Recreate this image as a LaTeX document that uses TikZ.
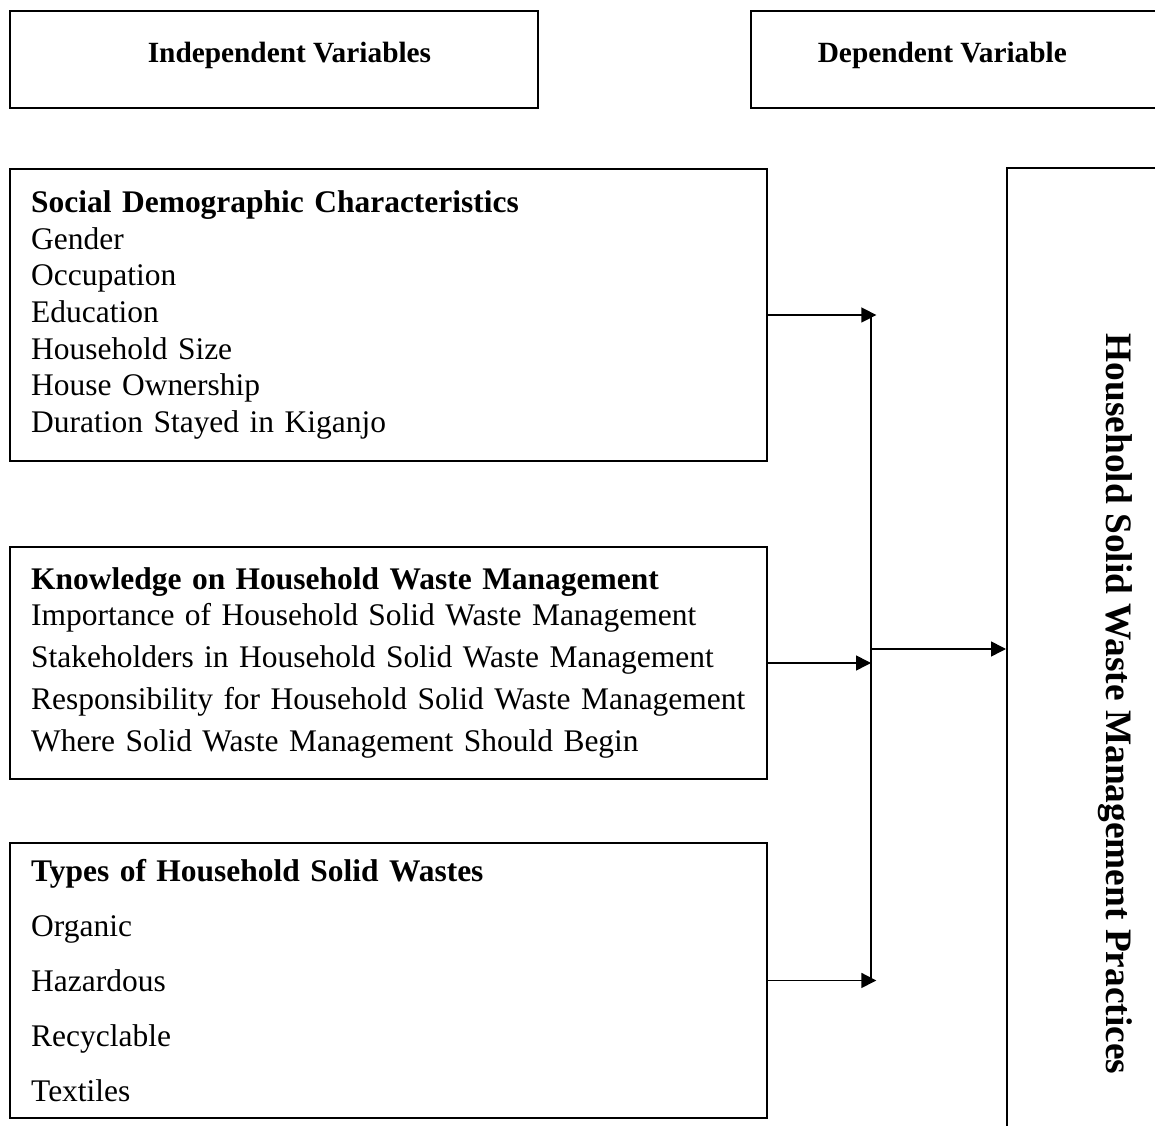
\documentclass[tikz,border=0pt]{standalone}
\usepackage{fontspec}
\setmainfont{Liberation Serif}
\usetikzlibrary{arrows.meta,positioning}
\tikzset{font=\fontsize{11.8}{14}\selectfont}

\begin{document}
\begin{tikzpicture}[x=0.375pt,y=-0.375pt,line width=0.6pt,
    headbox/.style={draw,line width=0.75pt,anchor=north west,minimum width=198pt,minimum height=36.4pt},
    headlab/.style={anchor=west,inner xsep=0pt,font=\fontsize{11}{13}\selectfont\bfseries},
    varbox/.style={draw,line width=0.75pt,anchor=north west,minimum width=283.9pt,text width=268pt,
      inner xsep=7.9pt,align=left},
    flow/.style={-{Triangle[length=5.6pt,width=5.6pt]}}]
  \useasboundingbox (0,0) rectangle (1155,1126);
  \clip (0,0) rectangle (1155,1126);

  % heading boxes
  \node[headbox] (indep) at (9,10) {};
  \node[headbox,minimum width=200pt] (dep) at (750,10) {};
  \node[headlab] (indeplab) at (147,55) {Independent Variables};
  \node[headlab] (deplab) at (817,55) {Dependent Variable};

  % independent variables
  \node[varbox,minimum height=109.5pt,font=\fontsize{11.8}{13.75}\selectfont] (social) at (9,168)
    {\textbf{Social Demographic Characteristics}\\Gender\\Occupation\\Education\\
     Household Size\\House Ownership\\Duration Stayed in Kiganjo};
  \node[varbox,minimum height=87pt,font=\fontsize{11.8}{15.75}\selectfont] (know) at (9,546)
    {\textbf{Knowledge on Household Waste Management}\\[-2.6pt]
     Importance of Household Solid Waste Management\\
     Stakeholders in Household Solid Waste Management\\
     Responsibility for Household Solid Waste Management\\
     Where Solid Waste Management Should Begin};
  \node[varbox,minimum height=103.1pt,font=\fontsize{11.8}{20.6}\selectfont] (types) at (9,842)
    {\textbf{Types of Household Solid Wastes}\\Organic\\Hazardous\\Recyclable\\Textiles};

  % dependent variable
  \node[draw,line width=0.75pt,anchor=north west,minimum width=150pt,minimum height=400pt] (practice) at (1006,167) {};
  \node[anchor=base,rotate=-90,font=\fontsize{14}{16}\selectfont\bfseries] (practicelab) at (1106,704)
    {Household Solid Waste Management Practices};

  \coordinate (jtop) at (871,314);
  \coordinate (jmid) at (871,649);
  \draw (social.east -| jtop) -- (types.east -| jtop);
  \draw[flow] (social.east) -- ([xshift=2pt]social.east -| jtop);
  \draw[flow] (know.east) -- (know.east -| jtop);
  \draw[flow] (types.east) -- ([xshift=2pt]types.east -| jtop);
  \draw[flow] (jmid) -- (jmid -| practice.west);
\end{tikzpicture}
\end{document}
